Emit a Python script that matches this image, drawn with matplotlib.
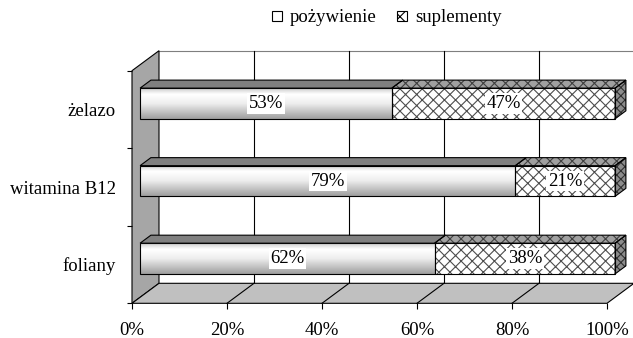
import matplotlib
matplotlib.use("Agg")
import numpy as np
import matplotlib.pyplot as plt
from matplotlib.patches import Rectangle, Polygon, Patch

# ---- data ----
categories = ["foliany", "witamina B12", "żelazo"]
food = [62, 79, 53]            # pożywienie, %
supplements = [38, 21, 47]     # suplementy, %
series_names = ["pożywienie", "suplementy"]
x_ticks = [0, 20, 40, 60, 80, 100]
x_tick_labels = ["0%", "20%", "40%", "60%", "80%", "100%"]

plt.rcParams["font.family"] = ["Liberation Serif", "DejaVu Serif"]
plt.rcParams["hatch.linewidth"] = 0.8

FS = 13.5
LW = 0.8
W, H = 633, 338
fig = plt.figure(figsize=(W / 100, H / 100), dpi=100)
ax = fig.add_axes([132 / W, (H - 303.3) / H, 475 / W, 232.6 / H])
ax.set_xlim(0, 100)
ax.set_ylim(-0.5, 2.5)
for s in ax.spines.values():
    s.set_visible(False)
ax.patch.set_visible(False)

# depth of the pseudo-3D box (pixels right / up) converted to data units
DEPTH_PX = np.array([27.0, 20.0])
origin = ax.transData.transform((0, 0))
dx, dy = ax.transData.inverted().transform(origin + DEPTH_PX)


def add(patch):
    patch.set_clip_on(False)
    ax.add_patch(patch)


# back wall
add(Rectangle((dx, -0.5 + dy), 100, 3, fc="white", ec="none", zorder=0))
ax.plot([dx, 100 + dx], [2.5 + dy, 2.5 + dy], color="#7f7f7f", lw=LW,
        clip_on=False, zorder=0.5)
for v in x_ticks[1:]:
    ax.plot([v + dx, v + dx], [-0.5 + dy, 2.5 + dy], color="black", lw=LW,
            clip_on=False, zorder=0.5)

# side wall
add(Polygon([(0, -0.5), (0, 2.5), (dx, 2.5 + dy), (dx, -0.5 + dy)],
            closed=True, fc="#a6a6a6", ec="black", lw=LW, zorder=1))
# floor
add(Polygon([(0, -0.5), (100, -0.5), (100 + dx, -0.5 + dy), (dx, -0.5 + dy)],
            closed=True, fc="#c0c0c0", ec="black", lw=LW, zorder=1))
for v in x_ticks[1:-1]:
    ax.plot([v, v + dx], [-0.5, -0.5 + dy], color="black", lw=LW,
            clip_on=False, zorder=1.1)

# bars
h = 0.198
f0, f1 = 0.3, 0.7
t = np.linspace(0, 1, 128)
grad = np.interp(t, [0, 0.2, 0.5, 1.0], [0.80, 1.0, 0.93, 0.62])[:, None]

for i, (a, b) in enumerate(zip(food, supplements)):
    xo0, xo1 = f0 * dx, f1 * dx
    y0, y1 = i - h + f0 * dy, i + h + f0 * dy
    ddy = (f1 - f0) * dy
    # food: front face with shading, top face
    im = ax.imshow(grad, cmap="gray", vmin=0, vmax=1,
                   extent=(xo0, xo0 + a, y0, y1), aspect="auto",
                   interpolation="bilinear", zorder=3)
    im.set_clip_on(False)
    add(Rectangle((xo0, y0), a, 2 * h, fc="none", ec="black", lw=LW,
                  zorder=3.2))
    add(Polygon([(xo0, y1), (xo0 + a, y1), (xo1 + a, y1 + ddy),
                 (xo1, y1 + ddy)], closed=True, fc="#808080", ec="black",
                lw=LW, zorder=3.2))
    # supplements: hatched front, top and end faces
    end = a + b
    add(Rectangle((xo0 + a, y0), b, 2 * h, fc="white", ec="#4d4d4d",
                  hatch="xxx", lw=0, zorder=3))
    add(Rectangle((xo0 + a, y0), b, 2 * h, fc="none", ec="black", lw=LW,
                  zorder=3.2))
    top = [(xo0 + a, y1), (xo0 + end, y1), (xo1 + end, y1 + ddy),
           (xo1 + a, y1 + ddy)]
    add(Polygon(top, closed=True, fc="#a0a0a0", ec="#404040", hatch="xxx",
                lw=0, zorder=3))
    add(Polygon(top, closed=True, fc="none", ec="black", lw=LW, zorder=3.2))
    side = [(xo0 + end, y0), (xo1 + end, y0 + ddy), (xo1 + end, y1 + ddy),
            (xo0 + end, y1)]
    add(Polygon(side, closed=True, fc="#8c8c8c", ec="#303030", hatch="xxxx",
                lw=0, zorder=3))
    add(Polygon(side, closed=True, fc="none", ec="black", lw=LW, zorder=3.2))
    # value labels
    for x0, val in ((0, a), (a, b)):
        ax.text(xo0 + x0 + val / 2, i + f0 * dy, f"{val}%", ha="center",
                va="center", fontsize=FS, zorder=5, clip_on=False,
                bbox=dict(fc="white", ec="none", pad=1.2))

ax.set_xlim(0, 100)
ax.set_ylim(-0.5, 2.5)

# axes ticks and labels
ax.set_xticks(x_ticks, x_tick_labels)
ax.tick_params(axis="x", length=4.3, width=LW, pad=9, labelsize=FS,
               direction="out", colors="black")
ax.set_yticks(range(len(categories)), categories)
ax.tick_params(axis="y", which="major", length=0, pad=11.5, labelsize=FS)
ax.set_yticks([-0.5, 0.5, 1.5, 2.5], minor=True)
ax.tick_params(axis="y", which="minor", length=3.6, width=LW, direction="out")

# legend
handles = [Patch(fc="white", ec="black", lw=LW),
           Patch(fc="white", ec="black", lw=LW, hatch="xx")]
fig.legend(handles, series_names, loc="center",
           bbox_to_anchor=(387 / W, 1 - 18 / H), ncol=2, frameon=False,
           handlelength=0.5, handleheight=0.5, handletextpad=0.45,
           columnspacing=1.1, fontsize=FS)

fig.savefig("out.png", dpi=100)
